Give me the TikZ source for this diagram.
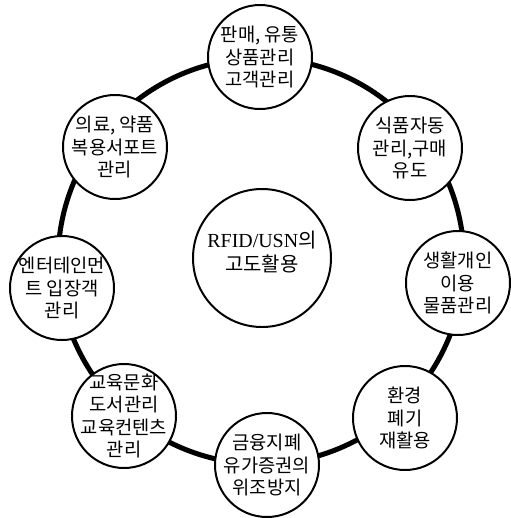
\documentclass[tikz,border=0pt]{standalone}
\usepackage{fontspec}
\setmainfont{Liberation Serif}
\newfontfamily\kr{Noto Sans CJK KR}
\tikzset{
  bubble/.style={circle, draw=black, line width=1.7pt, fill=white, minimum size=3.12cm, inner sep=0pt},
  bigbubble/.style={circle, draw=black, line width=1.7pt, fill=white, minimum size=4.14cm, inner sep=0pt},
  txt/.style={align=center, font=\kr\fontsize{16}{19}\selectfont, inner sep=0pt},
  ctxt/.style={align=center, font=\kr\fontsize{17}{20}\selectfont, inner sep=0pt},
  ring/.style={line width=4.3pt}
}
\begin{document}
\begin{tikzpicture}[x=0.03cm,y=-0.03cm]
\useasboundingbox (0,0) rectangle (511,518);
\coordinate (rc) at (261,261);
\draw[ring] (rc) circle[radius=6.09cm];
\node[bigbubble] (c) at (262,258) {};
\node[ctxt] (ct) at (262,252) {{\rmfamily RFID/USN}의\\고도활용};
\node[bubble] (n1) at (260,57) {};
\node[bubble] (n2) at (410,148) {};
\node[bubble] (n3) at (458,283) {};
\node[bubble] (n4) at (405,418) {};
\node[bubble] (n5) at (267,465) {};
\node[bubble] (n6) at (124,416) {};
\node[bubble] (n7) at (62,288) {};
\node[bubble] (n8) at (115,147) {};
\node[txt] (t1) at (n1) {판매, 유통\\상품관리\\고객관리};
\node[txt] (t2) at (n2) {식품자동\\관리,구매\\유도};
\node[txt] (t3) at (n3) {생활개인\\이용\\물품관리};
\node[txt] (t4) at (n4) {환경\\폐기\\재활용};
\node[txt] (t5) at (n5) {금융지폐\\유가증권의\\위조방지};
\node[txt] (t6) at (n6) {교육문화\\도서관리\\교육컨텐츠\\관리};
\node[txt] (t7) at (n7) {엔터테인먼\\트 입장객\\관리};
\node[txt] (t8) at (n8) {의료, 약품\\복용서포트\\관리};
\end{tikzpicture}
\end{document}
